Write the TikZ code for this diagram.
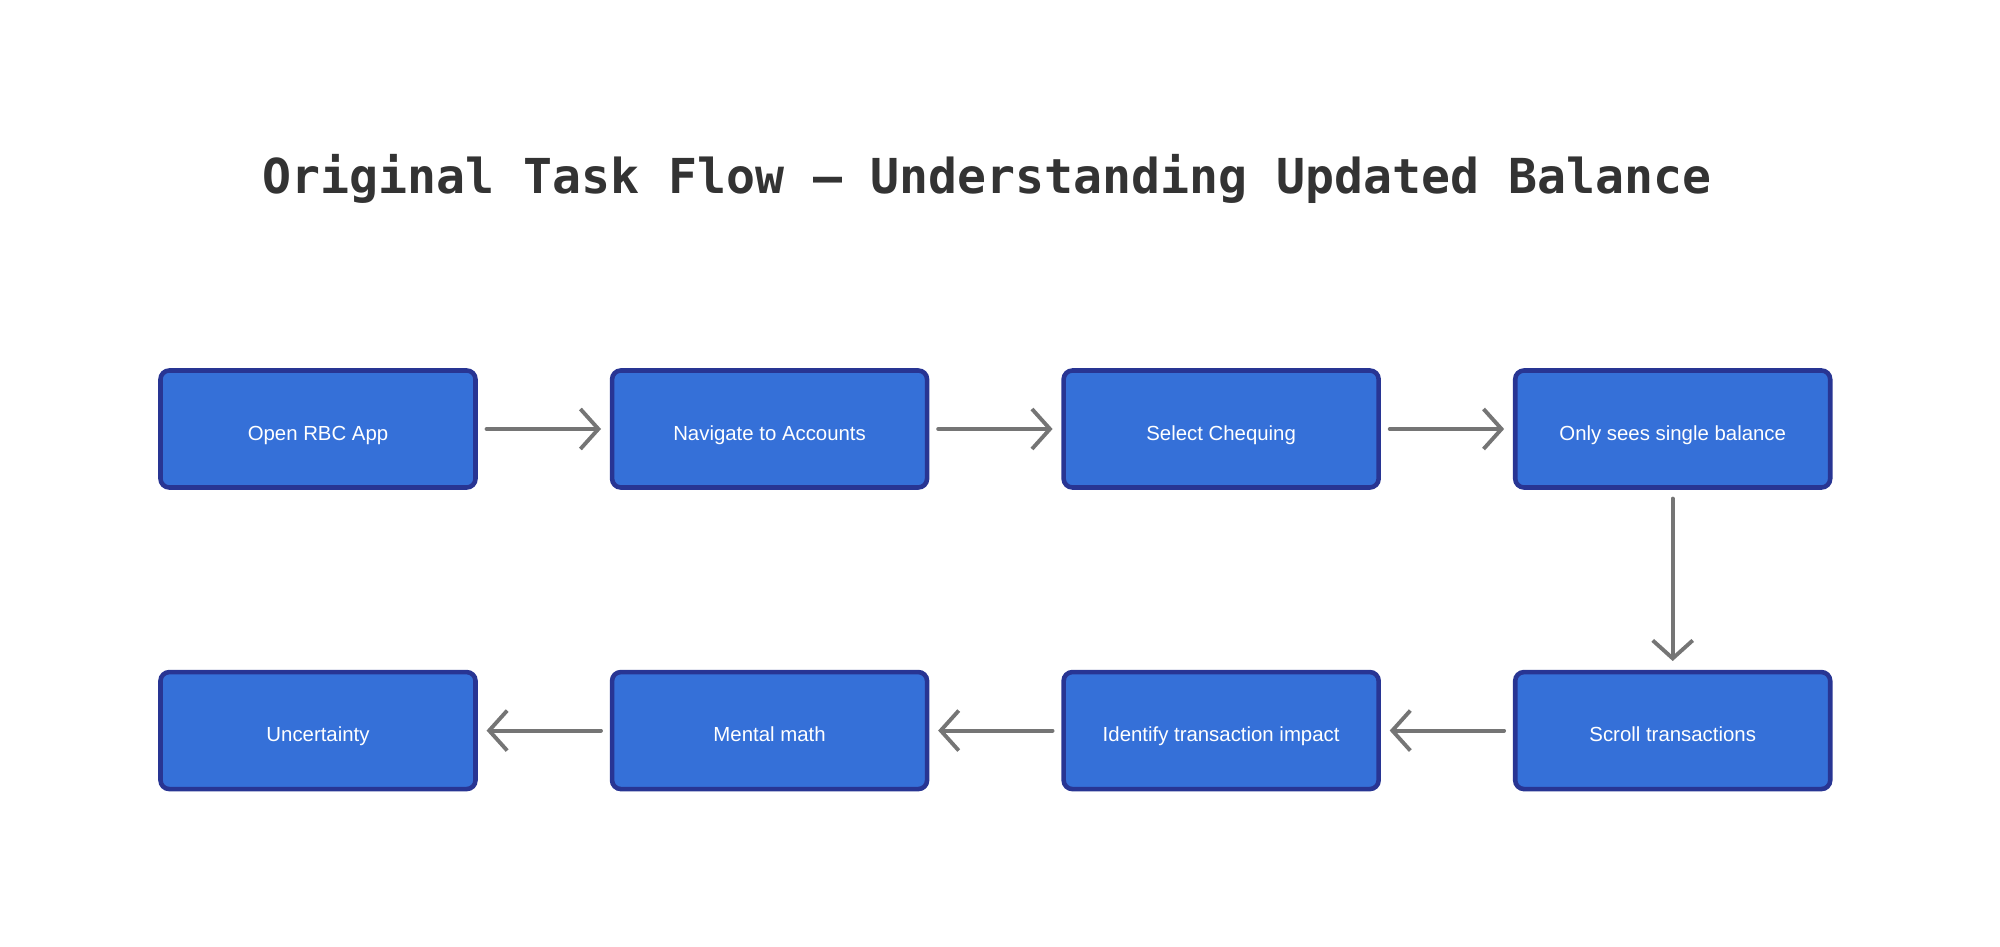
\documentclass[tikz,border=0pt]{standalone}
\usepackage{fontspec}
\setmainfont{Liberation Sans}
\newfontfamily\titlefont{DejaVu Sans Mono}
\usetikzlibrary{arrows.meta,positioning}
\definecolor{stepfill}{HTML}{3570D8}
\definecolor{stepdraw}{HTML}{283593}
\definecolor{flowgray}{HTML}{757575}
\definecolor{titlegray}{HTML}{333333}
\begin{document}
\begin{tikzpicture}[
        node distance=1.32cm,
        taskbox/.style={draw=stepdraw, line width=1.3pt, rectangle, rounded corners=2.5pt, fill=stepfill, text=white, font=\fontsize{5.8}{7}\selectfont, text height=1.5ex, text depth=.3ex, minimum width=3.15cm, minimum height=1.17cm, align=center},
        flow/.style={draw=flowgray, line width=1.1pt, line cap=round, shorten >=2.5pt, shorten <=2.5pt, -{Straight Barb[length=1.8mm, width=4mm, line width=1.1pt]}}]

        \useasboundingbox (0,0) rectangle (20,9.46);

        % Title
        \node[font=\titlefont\bfseries\fontsize{13.7}{16}\selectfont, text=titlegray] (title) at (9.87,7.67) {Original Task Flow — Understanding Updated Balance};

        % Top row
        \node[taskbox] (open) at (3.18,5.17) {Open RBC App};
        \node[taskbox, right=of open] (nav) {Navigate to Accounts};
        \node[taskbox, right=of nav] (select) {Select Chequing};
        \node[taskbox, right=of select] (single) {Only sees single balance};

        % Bottom row
        \node[taskbox, below=1.8cm of single] (scroll) {Scroll transactions};
        \node[taskbox, left=of scroll] (identify) {Identify transaction impact};
        \node[taskbox, left=of identify] (math) {Mental math};
        \node[taskbox, left=of math] (uncert) {Uncertainty};

        % Connections
        \draw[flow] (open) -- (nav);
        \draw[flow] (nav) -- (select);
        \draw[flow] (select) -- (single);
        \draw[flow] (single) -- (scroll);
        \draw[flow] (scroll) -- (identify);
        \draw[flow] (identify) -- (math);
        \draw[flow] (math) -- (uncert);

    \end{tikzpicture}
\end{document}
